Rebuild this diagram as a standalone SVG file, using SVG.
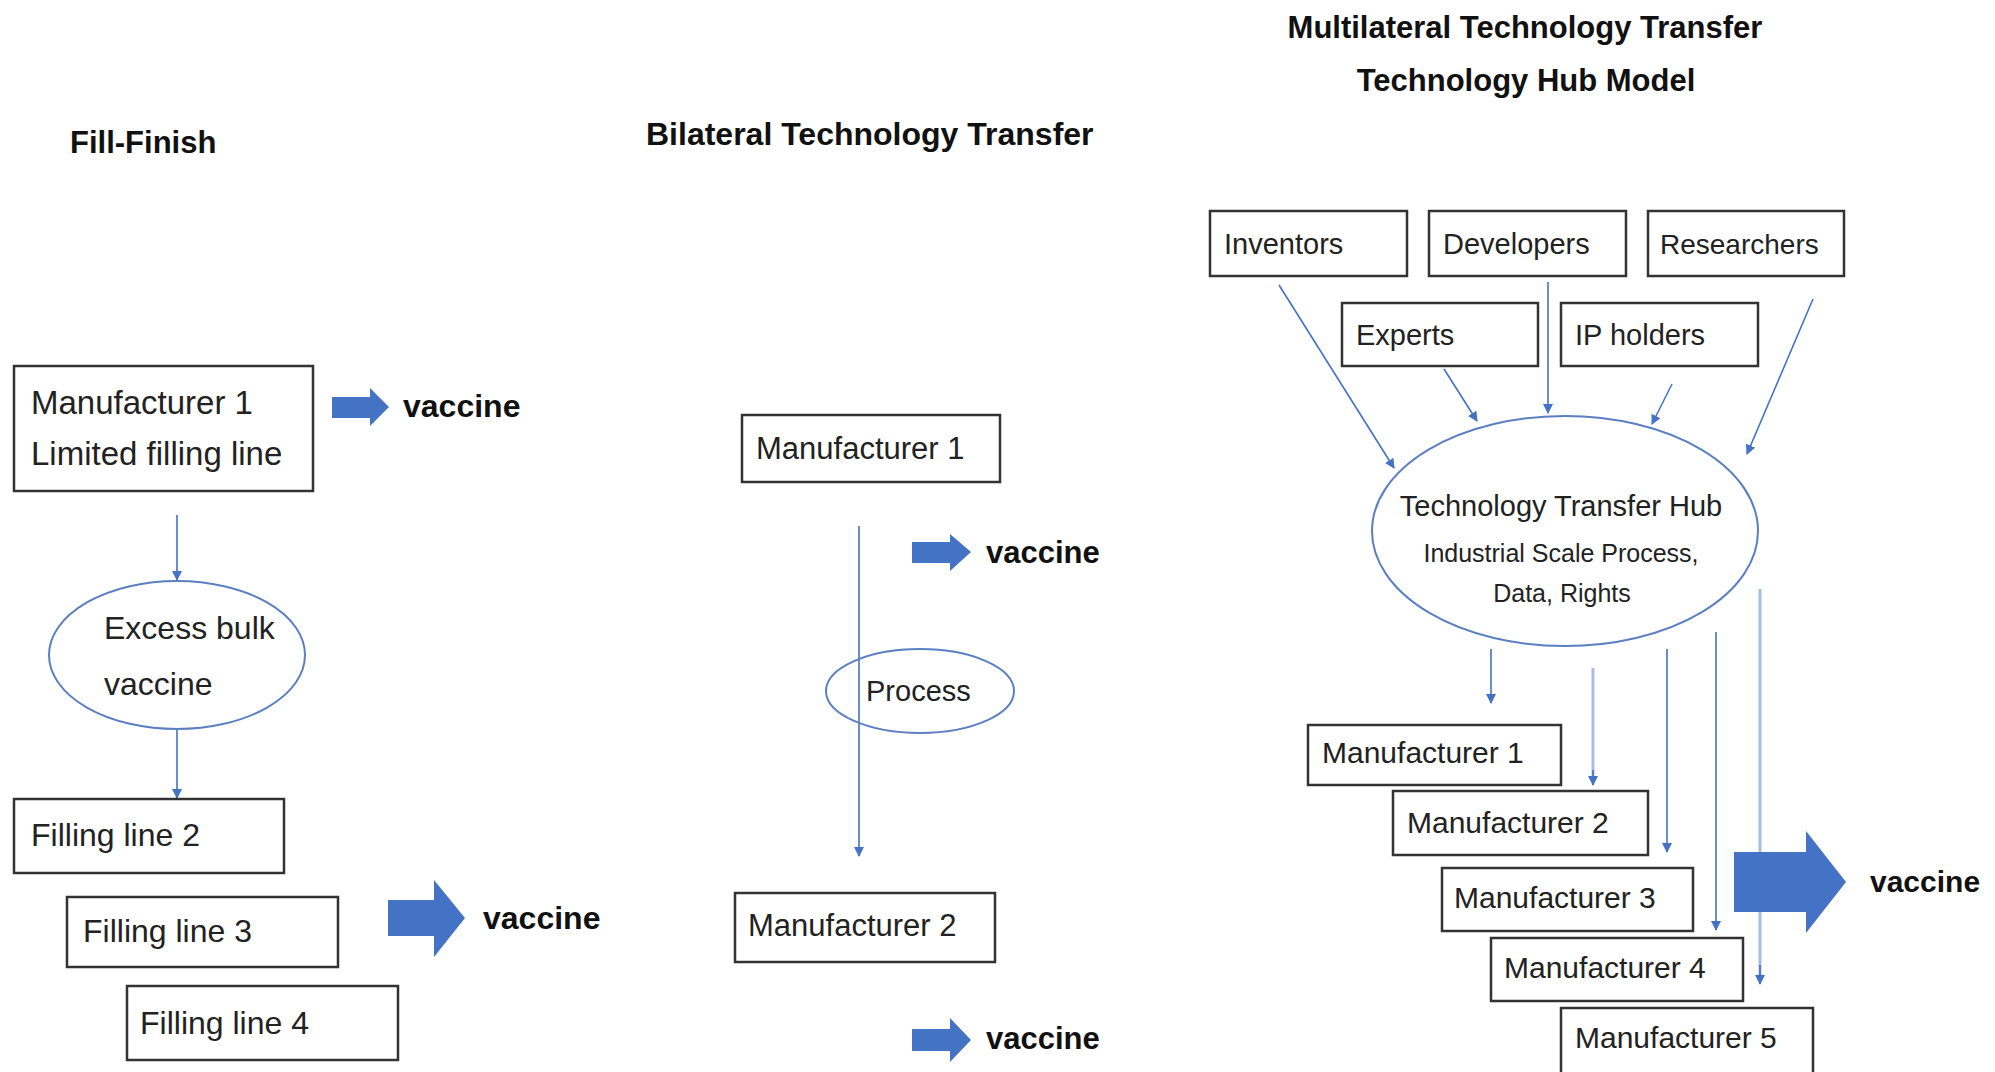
<svg xmlns="http://www.w3.org/2000/svg" width="1995" height="1072" viewBox="0 0 1995 1072">
<style>
.bg{fill:#fff}
.box{fill:#fff;stroke:#333;stroke-width:2.5}
.ell{fill:#fff;stroke:#5b7fc0;stroke-width:2}
.t{font-family:"Liberation Sans",Arial,sans-serif;fill:#222}
.b{font-family:"Liberation Sans",Arial,sans-serif;font-weight:bold;fill:#111}
.con{fill:none;stroke:#4472c4;stroke-width:1.6}
.conl{fill:none;stroke:#a9bde4;stroke-width:3}
.blk{fill:#4472c4}
</style>
<defs>
<marker id="ah2" viewBox="0 0 10 10" refX="9" refY="5" markerWidth="10" markerHeight="10" markerUnits="userSpaceOnUse" orient="auto">
<path d="M0,0 L10,5 L0,10 z" fill="#4472c4"/>
</marker>
</defs>
<rect class="bg" x="0" y="0" width="1995" height="1072"/>

<!-- Titles -->
<text class="b" x="70" y="153" font-size="31">Fill-Finish</text>
<text class="b" x="646" y="145" font-size="32">Bilateral Technology Transfer</text>
<text class="b" x="1525" y="38" font-size="31" text-anchor="middle">Multilateral Technology Transfer</text>
<text class="b" x="1526" y="91" font-size="31" text-anchor="middle">Technology Hub Model</text>

<!-- Connectors -->
<g id="connectors">
<line class="con" x1="177" y1="515" x2="177" y2="580" marker-end="url(#ah2)"/>
<line class="con" x1="177" y1="730" x2="177" y2="798" marker-end="url(#ah2)"/>
<line class="con" x1="859" y1="526" x2="859" y2="856" stroke-width="2.2" marker-end="url(#ah2)"/>
<line class="con" x1="1279" y1="285" x2="1394" y2="468" marker-end="url(#ah2)"/>
<line class="con" x1="1444" y1="369" x2="1477" y2="421" marker-end="url(#ah2)"/>
<line class="con" x1="1548" y1="282" x2="1548" y2="413" marker-end="url(#ah2)"/>
<line class="con" x1="1672" y1="384" x2="1652" y2="424" marker-end="url(#ah2)"/>
<line class="con" x1="1813" y1="299" x2="1747" y2="454" marker-end="url(#ah2)"/>
<line class="con" x1="1491" y1="649" x2="1491" y2="703" stroke-width="2.2" marker-end="url(#ah2)"/>
<line class="conl" x1="1593" y1="668" x2="1593" y2="778"/>
<line class="con" x1="1593" y1="770" x2="1593" y2="785" marker-end="url(#ah2)"/>
<line class="con" x1="1667" y1="649" x2="1667" y2="852" stroke="#7d9bd6" marker-end="url(#ah2)"/>
<line class="con" x1="1716" y1="632" x2="1716" y2="930" stroke="#7d9bd6" marker-end="url(#ah2)"/>
<line class="conl" x1="1760" y1="589" x2="1760" y2="975"/>
<line class="con" x1="1760" y1="965" x2="1760" y2="984" marker-end="url(#ah2)"/>
</g>

<!-- Left column -->
<g id="left-m1">
<rect class="box" x="14" y="366" width="299" height="125"/>
<text class="t" x="31" y="414" font-size="33">Manufacturer 1</text>
<text class="t" x="31" y="465" font-size="33">Limited filling line</text>
</g>
<g id="left-arrow1">
<path class="blk" d="M332,397 H370 V388 L389,407 L370,426 V418 H332 Z"/>
<text class="b" x="403" y="417" font-size="32">vaccine</text>
</g>
<g id="left-excess">
<ellipse class="ell" cx="177" cy="655" rx="128" ry="74"/>
<text class="t" x="104" y="639" font-size="32">Excess bulk</text>
<text class="t" x="104" y="695" font-size="32">vaccine</text>
</g>
<g id="left-fl2">
<rect class="box" x="14" y="799" width="270" height="74"/>
<text class="t" x="31" y="846" font-size="32">Filling line 2</text>
</g>
<g id="left-fl3">
<rect class="box" x="67" y="897" width="271" height="70"/>
<text class="t" x="83" y="942" font-size="32">Filling line 3</text>
</g>
<g id="left-fl4">
<rect class="box" x="127" y="986" width="271" height="74"/>
<text class="t" x="140" y="1034" font-size="32">Filling line 4</text>
</g>
<g id="left-arrow2">
<path class="blk" d="M388,900 H434 V880 L465,918 L434,957 V936 H388 Z"/>
<text class="b" x="483" y="929" font-size="32">vaccine</text>
</g>

<!-- Middle column -->
<g id="mid-m1">
<rect class="box" x="742" y="415" width="258" height="67"/>
<text class="t" x="756" y="459" font-size="31">Manufacturer 1</text>
</g>
<g id="mid-arrow1">
<path class="blk" d="M912,542 H950 V534 L971,552 L950,571 V563 H912 Z"/>
<text class="b" x="986" y="563" font-size="31">vaccine</text>
</g>
<g id="mid-process">
<ellipse class="ell" cx="920" cy="691" rx="94" ry="42" style="fill:none"/>
<text class="t" x="866" y="701" font-size="29">Process</text>
</g>
<g id="mid-m2">
<rect class="box" x="735" y="893" width="260" height="69"/>
<text class="t" x="748" y="936" font-size="31">Manufacturer 2</text>
</g>
<g id="mid-arrow2">
<path class="blk" d="M912,1029 H950 V1018 L971,1040 L950,1062 V1051 H912 Z"/>
<text class="b" x="986" y="1049" font-size="31">vaccine</text>
</g>

<!-- Right column -->
<g id="r-inventors">
<rect class="box" x="1210" y="211" width="197" height="65"/>
<text class="t" x="1224" y="254" font-size="29">Inventors</text>
</g>
<g id="r-developers">
<rect class="box" x="1429" y="211" width="197" height="65"/>
<text class="t" x="1443" y="254" font-size="29">Developers</text>
</g>
<g id="r-researchers">
<rect class="box" x="1648" y="211" width="196" height="65"/>
<text class="t" x="1660" y="254" font-size="28">Researchers</text>
</g>
<g id="r-experts">
<rect class="box" x="1342" y="303" width="196" height="63"/>
<text class="t" x="1356" y="345" font-size="29">Experts</text>
</g>
<g id="r-ipholders">
<rect class="box" x="1561" y="303" width="197" height="63"/>
<text class="t" x="1575" y="345" font-size="29">IP holders</text>
</g>
<g id="r-hub">
<ellipse class="ell" cx="1565" cy="531" rx="193" ry="115"/>
<text class="t" x="1561" y="516" font-size="29" text-anchor="middle">Technology Transfer Hub</text>
<text class="t" x="1561" y="562" font-size="25" text-anchor="middle">Industrial Scale Process,</text>
<text class="t" x="1562" y="602" font-size="25" text-anchor="middle">Data, Rights</text>
</g>
<g id="r-m1">
<rect class="box" x="1308" y="725" width="253" height="60"/>
<text class="t" x="1322" y="763" font-size="30">Manufacturer 1</text>
</g>
<g id="r-m2">
<rect class="box" x="1393" y="791" width="255" height="64"/>
<text class="t" x="1407" y="833" font-size="30">Manufacturer 2</text>
</g>
<g id="r-m3">
<rect class="box" x="1442" y="868" width="251" height="63"/>
<text class="t" x="1454" y="908" font-size="30">Manufacturer 3</text>
</g>
<g id="r-m4">
<rect class="box" x="1491" y="938" width="252" height="63"/>
<text class="t" x="1504" y="978" font-size="30">Manufacturer 4</text>
</g>
<g id="r-m5">
<rect class="box" x="1561" y="1008" width="252" height="72"/>
<text class="t" x="1575" y="1048" font-size="30">Manufacturer 5</text>
</g>
<g id="r-arrow">
<path class="blk" d="M1734,852 H1806 V831 L1846,882 L1806,933 V912 H1734 Z"/>
<text class="b" x="1870" y="892" font-size="30">vaccine</text>
</g>
</svg>
